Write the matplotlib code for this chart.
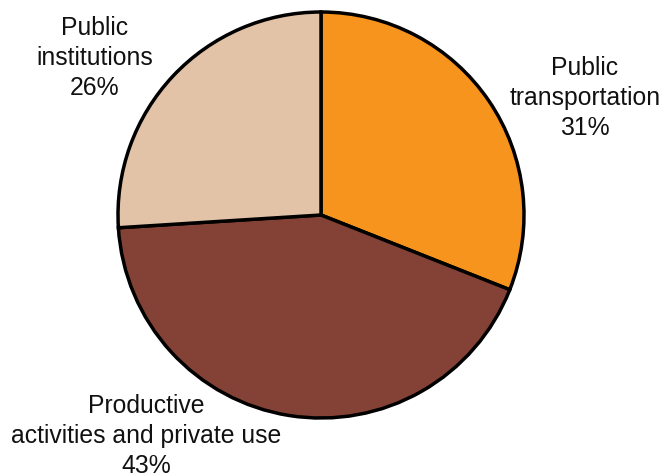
import matplotlib.pyplot as plt

plt.rcParams["font.family"] = ["Liberation Sans", "DejaVu Sans"]

categories = ["Public\ntransportation", "Productive\nactivities and private use", "Public\ninstitutions"]
shares = [31, 43, 26]
colors = ["#F7941D", "#844236", "#E2C3A7"]

W, H = 662, 475
fig = plt.figure(figsize=(W / 100, H / 100), dpi=100)
r = 203
cx, cy = 321, 215
ax = fig.add_axes([(cx - r) / W, 1 - (cy + r) / H, 2 * r / W, 2 * r / H])
ax.pie(shares, colors=colors, startangle=90, counterclock=False,
       wedgeprops=dict(edgecolor="black", linewidth=2.5))
ax.set_xlim(-1.0, 1.0)
ax.set_ylim(-1.0, 1.0)
ax.set_aspect("equal")
ax.axis("off")

# label positions in pixels (x, y from top)
label_pos = [(585, 98), (146, 436), (95, 58)]
for name, val, (px, py) in zip(categories, shares, label_pos):
    fig.text(px / W, 1 - py / H, f"{name}\n{val}%", ha="center", va="center",
             fontsize=17.8, linespacing=1.32, color="#111111")

fig.savefig("out.png", dpi=100)
